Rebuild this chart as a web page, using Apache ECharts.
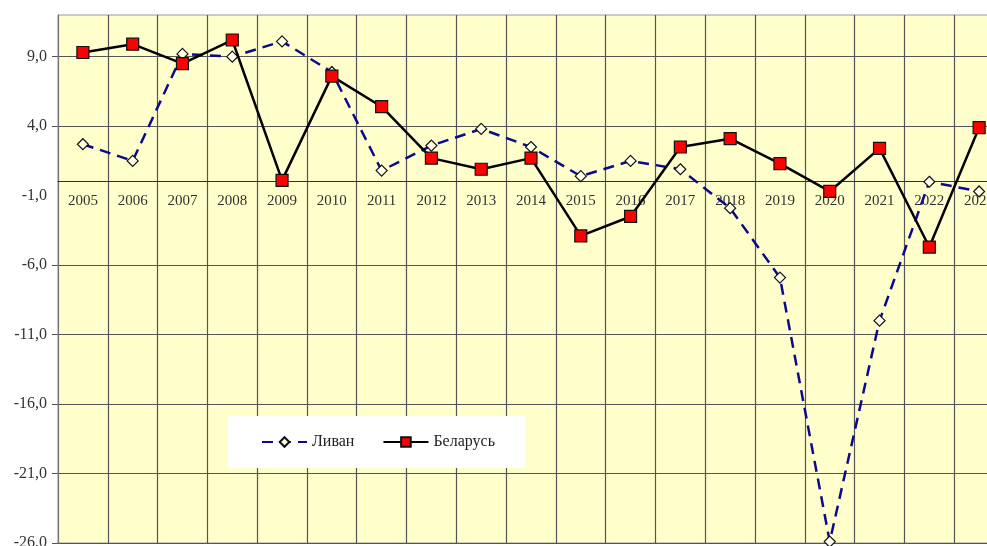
<!DOCTYPE html>
<html>
<head>
<meta charset="utf-8">
<script src="https://cdn.jsdelivr.net/npm/echarts@6/dist/echarts.min.js"></script>
<style>
    html, body { margin: 0; padding: 0; background: #fff; }
    #chart { width: 987px; height: 546px; }
</style>
</head>
<body>
<div id="chart"></div>
<script>
// годы
const years = ['2005', '2006', '2007', '2008', '2009', '2010', '2011', '2012', '2013', '2014',
    '2015', '2016', '2017', '2018', '2019', '2020', '2021', '2022', '2023']
// Ливан
const lebanon = [2.7, 1.5, 9.2, 9.0, 10.1, 7.9, 0.8, 2.6, 3.8, 2.5,
    0.4, 1.5, 0.9, -1.9, -6.9, -25.9, -10.0, 0.0, -0.7]
// Беларусь
const belarus = [9.3, 9.9, 8.5, 10.2, 0.1, 7.6, 5.4, 1.7, 0.9, 1.7,
    -3.9, -2.5, 2.5, 3.1, 1.3, -0.7, 2.4, -4.7, 3.9]
// шкала
const yMin = -26
const yMax = 12
const yLabels = [-26, -21, -16, -11, -6, -1, 4, 9]
// линии сетки (у -1 линии нет)
const yGrid = [-26, -21, -16, -11, -6, 4, 9]

const chart = echarts.init(document.getElementById('chart'))
const font = '"Liberation Serif", "DejaVu Serif", serif'

const gridTop = 15
const gridHeight = 528
// ось категорий проходит через ноль
const xOffset = -(0 - yMin) / (yMax - yMin) * gridHeight

chart.setOption({
    animation: false,
    textStyle: { fontFamily: font },
    grid: {
        left: 58,
        top: gridTop,
        width: 946,
        height: gridHeight,
        outerBoundsMode: 'none',
        containLabel: false,
        show: true,
        backgroundColor: '#ffffcc',
        borderColor: '#999',
        borderWidth: 1
    },
    legend: {
        left: 228,
        top: 416,
        padding: [18, 30, 18, 33],
        itemGap: 28,
        itemWidth: 45,
        itemHeight: 12,
        backgroundColor: '#fff',
        textStyle: { fontFamily: font, fontSize: 16, color: '#222' },
        data: ['Ливан', 'Беларусь']
    },
    xAxis: {
        type: 'category',
        data: years,
        boundaryGap: true,
        position: 'bottom',
        offset: xOffset,
        axisLine: { onZero: false, lineStyle: { color: '#333', width: 1.2 } },
        axisTick: { show: false },
        axisLabel: { margin: 12, fontSize: 15, color: '#333', fontFamily: font },
        splitLine: { show: true, lineStyle: { color: '#555', width: 1.2 } }
    },
    yAxis: {
        type: 'value',
        min: yMin,
        max: yMax,
        axisLine: { show: true, onZero: false, lineStyle: { color: '#777' } },
        axisTick: { show: true, inside: false, length: 6, customValues: yGrid, lineStyle: { color: '#555' } },
        axisLabel: {
            customValues: yLabels,
            fontSize: 16,
            color: '#333',
            fontFamily: font,
            margin: 11,
            formatter: v => v.toFixed(1).replace('.', ',')
        },
        splitLine: { show: true, lineStyle: { color: '#555', width: 1.2 } }
    },
    series: [
        {
            name: 'Ливан',
            type: 'line',
            data: lebanon,
            symbol: 'diamond',
            symbolSize: 11,
            itemStyle: { color: '#ffffe8', borderColor: '#111', borderWidth: 1.2 },
            lineStyle: { color: '#0a0a8a', width: 2.5, type: [11, 7] },
            z: 2
        },
        {
            name: 'Беларусь',
            type: 'line',
            data: belarus,
            symbol: 'rect',
            symbolSize: 12,
            itemStyle: { color: '#ff0000', borderColor: '#111', borderWidth: 1.2 },
            lineStyle: { color: '#000', width: 2.5 },
            z: 3
        }
    ]
})
</script>
</body>
</html>
